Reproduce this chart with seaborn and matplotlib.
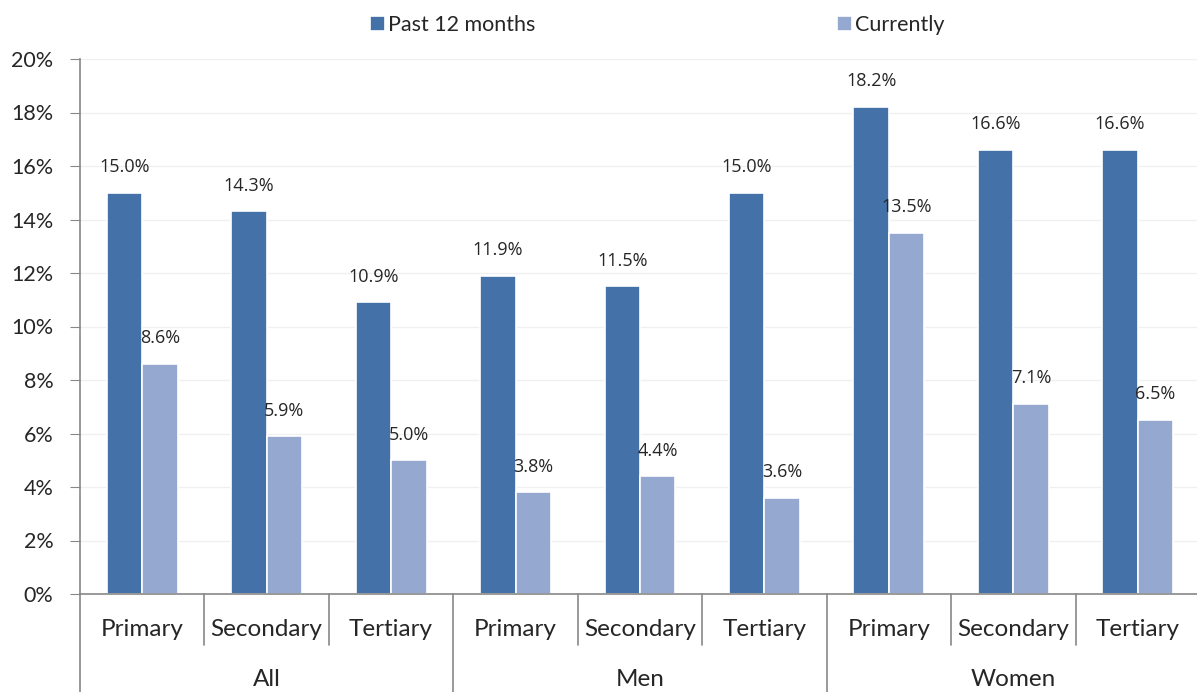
import matplotlib
matplotlib.use("Agg")
import matplotlib.pyplot as plt
import matplotlib.transforms as mtransforms
from matplotlib.ticker import FuncFormatter
import seaborn as sns
import pandas as pd

groups = ["All", "Men", "Women"]
levels = ["Primary", "Secondary", "Tertiary"]
series = ["Past 12 months", "Currently"]
past_12_months = [15.0, 14.3, 10.9, 11.9, 11.5, 15.0, 18.2, 16.6, 16.6]
currently = [8.6, 5.9, 5.0, 3.8, 4.4, 3.6, 13.5, 7.1, 6.5]

colors = ["#4472A8", "#95A9D0"]

keys = [f"{g}|{l}" for g in groups for l in levels]
df = pd.DataFrame({
    "key": keys * 2,
    "series": [series[0]] * len(keys) + [series[1]] * len(keys),
    "value": past_12_months + currently,
})

sns.set_style("white")
plt.rcParams["font.family"] = ["Lato", "DejaVu Sans"]

fig = plt.figure(figsize=(11.97, 6.92), dpi=100)
ax = fig.add_axes([80 / 1197, 98 / 692, 1120 / 1197, 535 / 692])

sns.barplot(data=df, x="key", y="value", hue="series", order=keys,
            hue_order=series, palette=colors, width=0.57, saturation=1,
            edgecolor="white", linewidth=1.2, legend=True, ax=ax)

for cont in ax.containers:
    ax.bar_label(cont, fmt="%.1f%%", padding=12, fontsize=13,
                 family=["Open Sans", "DejaVu Sans"])

ax.set_xlim(-0.5, 8.5)
ax.set_ylim(0, 20)
ax.set_yticks(range(0, 21, 2))
ax.yaxis.set_major_formatter(FuncFormatter(lambda v, p: f"{v:.0f}%"))
ax.tick_params(axis="y", labelsize=15.5, length=7, color="#888888", pad=12,
               left=True)
ax.set_xticks([])
ax.set_xlabel("")
ax.set_ylabel("")
ax.grid(axis="y", color="#f0f0f0", linewidth=1)
ax.set_axisbelow(True)
for s in ["top", "right"]:
    ax.spines[s].set_visible(False)
for s in ["left", "bottom"]:
    ax.spines[s].set_color("#888888")
    ax.spines[s].set_linewidth(1.2)

trans = mtransforms.blended_transform_factory(ax.transData, ax.transAxes)
inner_bottom = -(645 - 594) / 535
outer_bottom = -(692 - 594) / 535
for x in [0.5, 1.5, 3.5, 4.5, 6.5, 7.5]:
    ax.plot([x, x], [0, inner_bottom], color="#888888", lw=1.2,
            transform=trans, clip_on=False)
for x in [-0.5, 2.5, 5.5, 8.5]:
    ax.plot([x, x], [0, outer_bottom], color="#888888", lw=1.2,
            transform=trans, clip_on=False)

for i, k in enumerate(keys):
    ax.text(i, -(629 - 594) / 535, k.split("|")[1], transform=trans,
            ha="center", va="center", fontsize=17.5)
for j, g in enumerate(groups):
    ax.text(j * 3 + 1, -(680 - 594) / 535, g, transform=trans,
            ha="center", va="center", fontsize=17.5)

handles, labels = ax.get_legend_handles_labels()
ax.legend_.remove()
fig.legend(handles, labels, loc="center", bbox_to_anchor=(0.549, 0.964),
           ncol=2, frameon=False, fontsize=15.5, handlelength=0.7,
           handleheight=0.7, handletextpad=0.15, columnspacing=14.0)

fig.savefig("out.png", dpi=100)
